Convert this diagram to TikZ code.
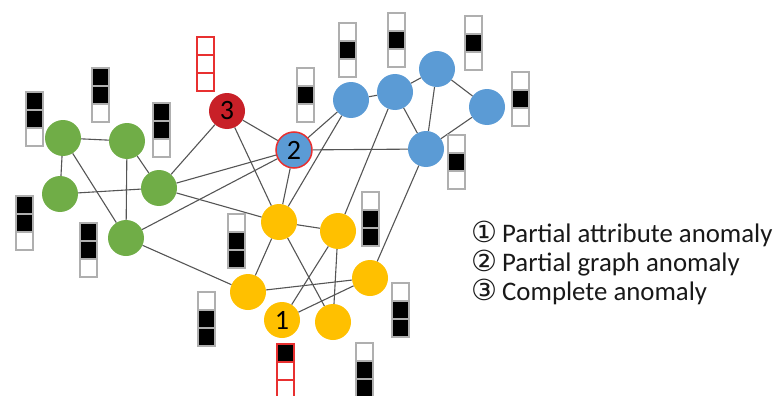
\documentclass[tikz,border=0pt]{standalone}
\usepackage{fontspec}
\setmainfont{Carlito}
\newfontfamily\circfont{DejaVu Sans}
\definecolor{ggreen}{RGB}{112,173,71}
\definecolor{gblue}{RGB}{91,155,213}
\definecolor{gyellow}{RGB}{255,192,0}
\definecolor{gred}{RGB}{200,32,40}
\definecolor{bred}{RGB}{232,48,48}
\definecolor{edgegray}{RGB}{85,85,85}
\definecolor{boxgray}{RGB}{175,175,175}
\tikzset{
  vtx/.style={circle, minimum size=36pt, inner sep=0pt, draw=none, font=\fontsize{28}{28}\selectfont},
  gv/.style={vtx, fill=ggreen},
  bv/.style={vtx, fill=gblue},
  yv/.style={vtx, fill=gyellow},
  rv/.style={vtx, fill=gred},
  link/.style={draw=edgegray, line width=1.1pt},
  cell/.style={draw=boxgray, line width=1.3pt},
  rcell/.style={draw=bred, line width=1.6pt},
  legend/.style={font=\fontsize{26.8}{27}\selectfont, inner sep=0pt, text=black!90}
}
% x, y (top-left), fill1, fill2, fill3, cell style
\newcommand\attrbar[6]{%
  \path[#6, fill=#3] (#1,#2) rectangle ++(17,18);
  \path[#6, fill=#4] (#1,#2+18) rectangle ++(17,18);
  \path[#6, fill=#5] (#1,#2+36) rectangle ++(17,18);
}
\newcommand\circnum[1]{{\circfont\fontsize{29}{29}\selectfont #1}\hspace{5pt}}
\begin{document}
\begin{tikzpicture}[x=1pt, y=-1pt]
\useasboundingbox (0,0) rectangle (779,396);
% nodes
\node[gv] (g1) at (63,138) {};
\node[gv] (g2) at (127,141) {};
\node[gv] (g3) at (60,194) {};
\node[gv] (g4) at (159,188) {};
\node[gv] (g5) at (126,238) {};
\node[rv] (r3) at (227,111) {3};
\node[bv, draw=bred, line width=1.5pt] (b2) at (294,150) {2};
\node[bv] (b1) at (351,100) {};
\node[bv] (b3) at (395,92) {};
\node[bv] (b4) at (437,69) {};
\node[bv] (b5) at (487,107) {};
\node[bv] (b6) at (426,149) {};
\node[yv] (y1) at (279,222) {};
\node[yv] (y2) at (338,231) {};
\node[yv] (y3) at (370,278) {};
\node[yv] (y4) at (248,292) {};
\node[yv] (y5) at (282,320) {1};
\node[yv] (y6) at (333,322) {};
% edges
\foreach \a/\b in {g1/g2, g1/g3, g1/g5, g2/g4, g2/g5, g3/g4, g4/r3, g4/b2, g4/y1, g5/b2, g5/y4,
  r3/b2, r3/y1, b2/b1, b2/b6, b2/y1, b1/y1, b1/b3, b3/b4, b3/b6, b3/y2, b4/b5, b4/b6, b5/b6, b6/y3,
  y1/y2, y1/y4, y1/y6, y2/y5, y2/y6, y4/y3, y5/y3}
  \draw[link] (\a) -- (\b);
% attribute bars
\attrbar{26}{92}{black}{black}{white}{cell}
\attrbar{92}{68}{black}{black}{white}{cell}
\attrbar{153}{103}{black}{black}{white}{cell}
\attrbar{16}{196}{black}{black}{white}{cell}
\attrbar{80}{223}{black}{black}{white}{cell}
\attrbar{197}{37}{white}{white}{white}{rcell}
\attrbar{297}{68}{white}{black}{white}{cell}
\attrbar{339}{23}{white}{black}{white}{cell}
\attrbar{388}{13}{white}{black}{white}{cell}
\attrbar{465}{16}{white}{black}{white}{cell}
\attrbar{512}{72}{white}{black}{white}{cell}
\attrbar{448}{135}{white}{black}{white}{cell}
\attrbar{228}{214}{white}{black}{black}{cell}
\attrbar{362}{192}{white}{black}{black}{cell}
\attrbar{198}{292}{white}{black}{black}{cell}
\attrbar{392}{283}{white}{black}{black}{cell}
\attrbar{356}{343}{white}{black}{black}{cell}
\attrbar{277}{344}{black}{white}{white}{rcell}
% legend
\node[legend, anchor=base west] (l1) at (471,242) {\circnum{①}Partial attribute anomaly};
\node[legend, anchor=base west] (l2) at (471,271) {\circnum{②}Partial graph anomaly};
\node[legend, anchor=base west] (l3) at (471,300) {\circnum{③}Complete anomaly};
\end{tikzpicture}
\end{document}
